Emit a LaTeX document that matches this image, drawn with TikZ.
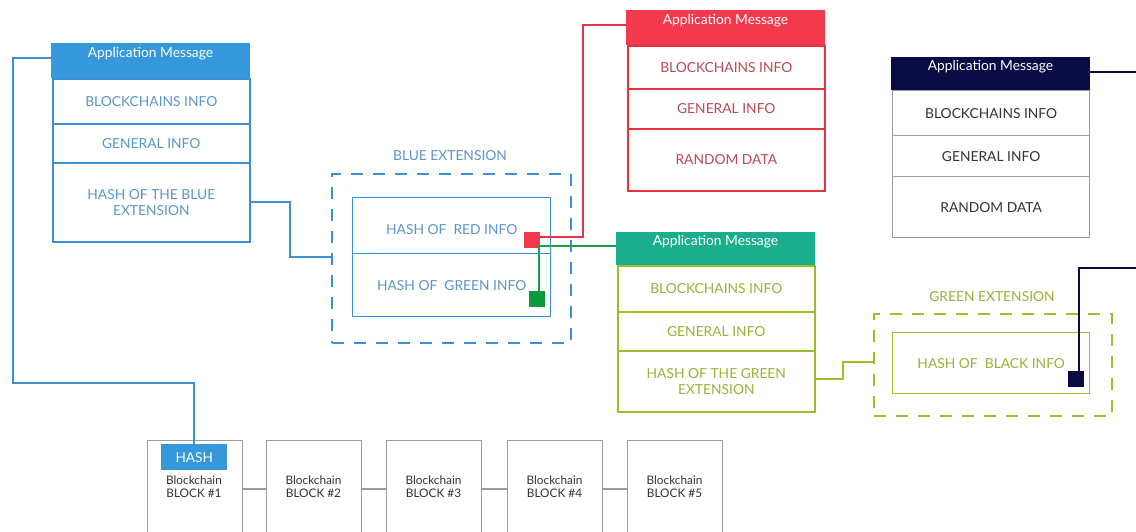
\documentclass[tikz,border=0pt]{standalone}
\usepackage{fontspec}
\setmainfont{Lato}
\definecolor{bluehdr}{HTML}{3498DB}
\definecolor{blueln}{HTML}{3C8ED5}
\definecolor{bluetxt}{HTML}{5E95C8}
\definecolor{redhdr}{HTML}{F2394D}
\definecolor{redln}{HTML}{E8303F}
\definecolor{redtxt}{HTML}{B84A55}
\definecolor{navy}{HTML}{0A0B45}
\definecolor{greybd}{HTML}{9C9C9C}
\definecolor{darktxt}{HTML}{333333}
\definecolor{teal}{HTML}{1BAE8C}
\definecolor{lime}{HTML}{9DBE2A}
\definecolor{limetxt}{HTML}{9CB03A}
\definecolor{sqgreen}{HTML}{0C983C}
\definecolor{lngreen}{HTML}{17A24A}
\tikzset{
  txt/.style={font=\fontsize{13.8}{16}\selectfont, align=center, inner sep=0pt},
  cell/.style={txt, draw, line width=1.6pt, minimum width=197pt, anchor=north west},
  hdr/.style={draw=none, minimum width=198.6pt, anchor=north west, inner sep=0pt},
  hdrtxt/.style={txt, text=white},
  dashbox/.style={line width=1.6pt, dash pattern=on 12pt off 10pt},
  sq/.style={minimum size=16pt, inner sep=0pt, anchor=north west},
  conn/.style={line width=1.6pt},
  blk/.style={draw=greybd, line width=1.3pt, minimum width=95pt, minimum height=100pt, anchor=north west, inner sep=0pt},
  blktxt/.style={font=\fontsize{11.8}{13}\selectfont, align=center, inner sep=0pt, text=darktxt},
}
\begin{document}
\begin{tikzpicture}[x=1pt,y=-1pt]
\clip (0,0) rectangle (1136,531);
\fill[white] (0,0) rectangle (1136,531);

% ---------- blue application message ----------
\node[cell, draw=blueln, text=bluetxt, minimum height=45pt] (bm1) at (52,78) {BLOCKCHAINS INFO};
\node[cell, draw=blueln, text=bluetxt, minimum height=39pt] (bm2) at (52,123) {GENERAL INFO};
\node[cell, draw=blueln, text=bluetxt, minimum height=79pt] (bm3) at (52,162) {HASH OF THE BLUE\\EXTENSION};
\node[hdr, fill=bluehdr, minimum height=35pt] (bmh) at (51.2,43) {};
\node[hdrtxt] (bmt) at (150.5,54) {Application Message};

% ---------- red application message ----------
\node[cell, draw=redln, text=redtxt, minimum height=43pt] (rm1) at (627,45) {BLOCKCHAINS INFO};
\node[cell, draw=redln, text=redtxt, minimum height=40pt] (rm2) at (627,88) {GENERAL INFO};
\node[cell, draw=redln, text=redtxt, minimum height=62pt] (rm3) at (627,128) {RANDOM DATA};
\node[hdr, fill=redhdr, minimum height=35pt] (rmh) at (626.2,10) {};
\node[hdrtxt] (rmt) at (725.5,21) {Application Message};

% ---------- black application message ----------
\node[cell, draw=greybd, line width=1.3pt, text=darktxt, minimum height=45pt] (km1) at (892,90) {BLOCKCHAINS INFO};
\node[cell, draw=greybd, line width=1.3pt, text=darktxt, minimum height=41pt] (km2) at (892,135) {GENERAL INFO};
\node[cell, draw=greybd, line width=1.3pt, text=darktxt, minimum height=61pt] (km3) at (892,176) {RANDOM DATA};
\node[hdr, fill=navy, minimum height=33pt] (kmh) at (891.2,57) {};
\node[hdrtxt] (kmt) at (990.5,67) {Application Message};

% ---------- green application message ----------
\node[cell, draw=lime, text=limetxt, minimum height=46pt] (gm1) at (617,265) {BLOCKCHAINS INFO};
\node[cell, draw=lime, text=limetxt, minimum height=39pt] (gm2) at (617,311) {GENERAL INFO};
\node[cell, draw=lime, text=limetxt, minimum height=61pt] (gm3) at (617,350) {HASH OF THE GREEN\\EXTENSION};
\node[hdr, fill=teal, minimum height=33pt] (gmh) at (616.2,232) {};
\node[hdrtxt] (gmt) at (715.5,242) {Application Message};

% ---------- blue extension ----------
\node[txt, text=bluetxt] (bxl) at (450,156) {BLUE EXTENSION};
\node[dashbox, draw=blueln, minimum width=239pt, minimum height=169pt, anchor=north west, inner sep=0pt] (bx) at (331,173) {};
\node[cell, draw=blueln, line width=1.4pt, text=bluetxt, minimum width=198pt, minimum height=56pt, text height=17pt] (bx1) at (352,197) {HASH OF~~RED INFO};
\node[cell, draw=blueln, line width=1.4pt, text=bluetxt, minimum width=198pt, minimum height=63pt] (bx2) at (352,253) {HASH OF~~GREEN INFO};
\node[sq, fill=redhdr] (rsq) at (524,232) {};
\node[sq, fill=sqgreen] (gsq) at (529,291) {};

% ---------- green extension ----------
\node[txt, text=limetxt] (gxl) at (992,297) {GREEN EXTENSION};
\node[dashbox, draw=lime, minimum width=238pt, minimum height=102pt, anchor=north west, inner sep=0pt] (gx) at (873,313) {};
\node[cell, draw=lime, line width=1.4pt, text=limetxt, minimum width=197pt, minimum height=61pt] (gx1) at (892,332) {HASH OF~~BLACK INFO};
\node[sq, fill=navy] (ksq) at (1068,371) {};

% ---------- blockchain ----------
\node[blk] (b1) at (147,440) {};
\node[blk] (b2) at (266,440) {};
\node[blk] (b3) at (386,440) {};
\node[blk] (b4) at (507,440) {};
\node[blk] (b5) at (627,440) {};
\node[fill=bluehdr, minimum width=66pt, minimum height=26pt, inner sep=0pt, anchor=north west,
      text=white, font=\fontsize{13.6}{15}\selectfont] (hash) at (161,444) {HASH};
\node[blktxt] (t1) at (194,487) {Blockchain\\BLOCK \#1};
\node[blktxt] (t2) at (313.5,487) {Blockchain\\BLOCK \#2};
\node[blktxt] (t3) at (433.5,487) {Blockchain\\BLOCK \#3};
\node[blktxt] (t4) at (554.5,487) {Blockchain\\BLOCK \#4};
\node[blktxt] (t5) at (674.5,487) {Blockchain\\BLOCK \#5};
\foreach \a/\b in {b1/b2,b2/b3,b3/b4,b4/b5}
  \draw[greybd, line width=1.3pt] (\a.east |- 0,489) -- (\b.west |- 0,489);

% ---------- connectors ----------
\coordinate (bl1) at (13,383);
\draw[conn, blueln] (bmh.west |- 0,58) -| (bl1) -| (hash.north);
\coordinate (bc1) at (290,257);
\draw[conn, blueln] (bm3.east |- 0,202) -| (bc1) -- (bx.west |- bc1);
\coordinate (rc1) at (583,25);
\draw[conn, redln] (rsq.east |- 0,237) -| (rc1) -- (rmh.west |- rc1);
\draw[conn, lngreen] (gsq.north -| 539,0) |- (gmh.west |- 0,246);
\coordinate (gc1) at (843,362);
\draw[conn, lime] (gm3.east |- 0,379) -| (gc1) -- (gx.west |- gc1);
\coordinate (kc1) at (1136,268);
\draw[conn, navy] (ksq.north -| 1079,0) |- (kc1);
\coordinate (kc2) at (1136,72);
\draw[conn, navy] (kmh.east |- kc2) -- (kc2);
\end{tikzpicture}
\end{document}
